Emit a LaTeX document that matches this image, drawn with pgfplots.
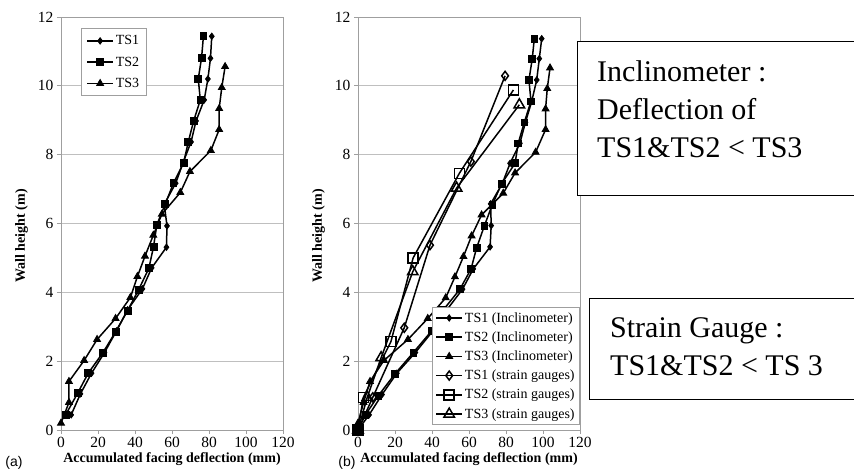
\documentclass[border=0pt]{standalone}
\usepackage{pgfplots}
\pgfplotsset{compat=1.18}
\usepackage{fontspec}
\setmainfont{Liberation Serif}
\newfontfamily\arialfont{Liberation Sans}

\pgfplotsset{
  panel/.style={
    scale only axis, width=222pt, height=413pt,
    xmin=0, xmax=120, ymin=0, ymax=12,
    xtick={0,20,...,120}, ytick={0,2,...,12},
    ymajorgrids, grid style={gray!50, line width=0.8pt},
    axis line style={gray!75, line width=0.8pt},
    tick style={gray!75, line width=0.8pt}, tick align=outside,
    major tick length=4pt, xtick pos=left, ytick pos=left,
    /pgf/number format/assume math mode=true,
    ticklabel style={font=\fontsize{15.5}{17}\selectfont},
    label style={font=\fontsize{14}{16}\selectfont\bfseries},
    xlabel={Accumulated facing deflection (mm)},
    ylabel={Wall height (m)},
    xlabel style={at={(axis description cs:0.5,-0.070)}, anchor=center},
    ylabel style={at={(axis description cs:-0.178,0.47)}, anchor=center},
    legend cell align=left,
    legend style={font=\fontsize{14}{14}\selectfont, draw=gray!75,
      line width=0.8pt, inner sep=3pt,
      legend image code/.code={\draw[mark repeat=2,mark phase=2,##1]
        plot coordinates {(0pt,0pt) (13pt,0pt) (26pt,0pt)};}},
  },
  ts/.style={black, line width=1.5pt, mark options={solid, line width=0.8pt}},
  tsa/.style={ts, mark=diamond*, mark size=3.2pt},
  tsb/.style={ts, mark=square*, mark size=3.4pt},
  tsc/.style={ts, mark=triangle*, mark size=4pt},
  sga/.style={ts, mark=diamond, mark size=4.5pt, mark options={fill=white}},
  sgb/.style={ts, mark=square, mark size=5pt, mark options={fill=white}},
  sgc/.style={ts, mark=triangle, mark size=6pt, mark options={fill=white}},
}

\begin{document}
\begin{tikzpicture}[x=1pt, y=1pt]
\useasboundingbox (0,0) rectangle (854,472);

% panel (a)
\begin{axis}[panel, at={(61pt,42pt)}, anchor=south west,
  legend style={at={(axis description cs:0.09,0.973)}, anchor=north west,
    row sep=6.5pt, inner sep=5pt}]
\addplot[tsa] coordinates {(5.5,0.44) (10.5,1.05) (16.5,1.65) (23.5,2.25) (30,2.88)
  (36,3.49) (44,4.1) (49,4.71) (57,5.31) (57.3,5.93) (55.8,6.56) (62,7.17) (66,7.77)
  (70.3,8.37) (73,8.98) (77.4,9.59) (79.4,10.2) (80.8,10.8) (81.5,11.44)};
\addplot[tsb] coordinates {(2.5,0.44) (9,1.07) (14.7,1.65) (22.7,2.25) (29.6,2.86)
  (36,3.47) (42,4.08) (47.5,4.7) (50,5.32) (51.8,5.96) (56.3,6.56) (60.8,7.17)
  (66.3,7.77) (68.8,8.37) (71.7,8.98) (75.3,9.59) (74.2,10.2) (76,10.82) (77,11.45)};
\addplot[tsc] coordinates {(0,0.2) (4.3,0.8) (4.3,1.41) (12.5,2.02) (19.5,2.63)
  (29.5,3.24) (37.5,3.85) (41.3,4.46) (45.4,5.05) (49.9,5.66) (54.5,6.27) (64.5,6.9)
  (69.7,7.51) (81,8.12) (85.5,8.73) (85.5,9.34) (86.9,9.95) (88.7,10.56)};
\legend{TS1,TS2,TS3}
\end{axis}

% panel (b)
\begin{axis}[panel, at={(358pt,42pt)}, anchor=south west,
  legend style={at={(axis description cs:1,0.012)}, anchor=south east,
    row sep=4pt}]
\addplot[tsa] coordinates {(0,0) (6,0.44) (13,1.03) (21,1.65) (31,2.25) (40.5,2.88)
  (48,3.49) (56.5,4.09) (62.3,4.68) (71.4,5.32) (72,5.94) (71.7,6.57) (78,7.16)
  (82.2,7.75) (87.5,8.33) (90.5,8.94) (93.9,9.55) (96.6,10.17) (98,10.79) (99.3,11.37)};
\addplot[tsb] coordinates {(0,0) (4,0.44) (11,1.0) (20,1.63) (29.9,2.25) (39.8,2.88)
  (46.1,3.49) (55.1,4.09) (61.1,4.68) (64.1,5.29) (68.3,5.93) (72.6,6.55) (77.7,7.16)
  (84.9,7.75) (86.6,8.33) (89.9,8.94) (93.5,9.55) (92.4,10.17) (94.2,10.79) (95.3,11.37)};
\addplot[tsc] coordinates {(0,0.2) (3,0.8) (6.5,1.41) (14,2.02) (27,2.63) (37.7,3.24)
  (47.4,3.84) (52.4,4.45) (57,5.04) (61.4,5.64) (66.8,6.25) (78.5,6.88) (84.9,7.47)
  (96,8.07) (101.4,8.73) (101.4,9.33) (102.3,9.92) (103.8,10.52)};
\addplot[sga] coordinates {(0,0) (8,0.95) (25,2.97) (38.9,5.37) (61,7.8) (79.5,10.29)};
\addplot[sgb] coordinates {(0,0) (2.9,0.95) (17.8,2.57) (29.8,5.0) (54.8,7.46) (84,9.88)};
\addplot[sgc] coordinates {(0,0) (5,0.95) (12.5,2.1) (29.6,4.6) (53.3,7.03) (87.2,9.45)};
\legend{TS1 (Inclinometer),TS2 (Inclinometer),TS3 (Inclinometer),
  TS1 (strain gauges),TS2 (strain gauges),TS3 (strain gauges)}
\end{axis}

\node[font=\arialfont\fontsize{14}{16}\selectfont] at (14,9) {(a)};
\node[font=\arialfont\fontsize{14}{16}\selectfont] at (347,9) {(b)};

% annotation boxes
\draw[black, line width=1pt, fill=white] (577,276) rectangle (870,430);
\node[anchor=base west, inner sep=0pt, font=\fontsize{30}{38}\selectfont] at (597,390) {Inclinometer :};
\node[anchor=base west, inner sep=0pt, font=\fontsize{30}{38}\selectfont] at (597,352) {Deflection of};
\node[anchor=base west, inner sep=0pt, font=\fontsize{30}{38}\selectfont] at (597,314) {TS1\&TS2 < TS3};
\draw[black, line width=1pt, fill=white] (589,73) rectangle (870,174);
\node[anchor=base west, inner sep=0pt, font=\fontsize{30}{38}\selectfont] at (610,135) {Strain Gauge :};
\node[anchor=base west, inner sep=0pt, font=\fontsize{30}{38}\selectfont] at (610,97) {TS1\&TS2 < TS 3};
\end{tikzpicture}
\end{document}
